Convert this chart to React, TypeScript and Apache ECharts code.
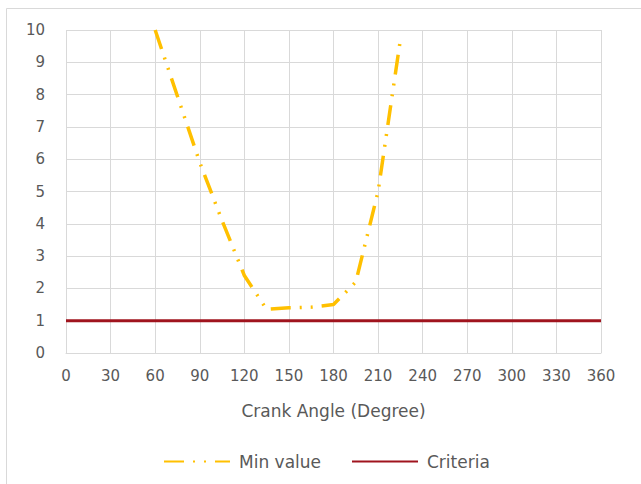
import React, { useEffect, useRef } from "react";
import * as echarts from "echarts";

// Crank angle sample points (degrees) and the minimum value at each
const crankAngles = [60, 75, 90, 105, 120, 135, 150, 165, 180, 195, 210, 225];
const minValues = [10, 7.95, 5.9, 4.1, 2.4, 1.35, 1.4, 1.42, 1.5, 2.2, 5.0, 9.7];

// Criteria threshold spans the whole angle range
const criteriaAngles = [0, 360];
const criteriaValues = [1, 1];

const xTicks = { min: 0, max: 360, interval: 30 };
const yTicks = { min: 0, max: 10, interval: 1 };

const FONT = "'DejaVu Sans', 'Open Sans', sans-serif";
const TEXT = "#595959";
const GRID = "#d9d9d9";

export default function App() {
  const ref = useRef<HTMLDivElement>(null);

  useEffect(() => {
    if (!ref.current) return;
    const chart = echarts.init(ref.current, undefined, { renderer: "svg" });
    chart.setOption({
      animation: false,
      backgroundColor: "#ffffff",
      textStyle: { fontFamily: FONT },
      graphic: [
        {
          type: "rect",
          shape: { x: 6.5, y: 8.5, width: 700, height: 600 },
          style: { fill: "none", stroke: GRID, lineWidth: 1 },
          silent: true,
        },
      ],
      grid: { left: 66, right: 40, top: 30, bottom: 131, containLabel: false },
      xAxis: {
        type: "value",
        min: xTicks.min,
        max: xTicks.max,
        interval: xTicks.interval,
        name: "Crank Angle (Degree)",
        nameLocation: "middle",
        nameGap: 49,
        nameTextStyle: { color: TEXT, fontSize: 17, fontFamily: FONT },
        axisLine: { show: true, lineStyle: { color: GRID } },
        axisTick: { show: false },
        axisLabel: { color: TEXT, fontSize: 15, margin: 15, fontFamily: FONT },
        splitLine: { show: true, lineStyle: { color: GRID } },
      },
      yAxis: {
        type: "value",
        min: yTicks.min,
        max: yTicks.max,
        interval: yTicks.interval,
        axisLine: { show: false },
        axisTick: { show: false },
        axisLabel: { color: TEXT, fontSize: 15, margin: 21, fontFamily: FONT },
        splitLine: { show: true, lineStyle: { color: GRID } },
      },
      legend: {
        bottom: 9,
        left: 158,
        itemWidth: 66,
        itemHeight: 14,
        itemGap: 30,
        itemStyle: { opacity: 0 },
        textStyle: { color: TEXT, fontSize: 17, fontFamily: FONT, padding: [0, 0, 0, 4] },
        data: ["Min value", "Criteria"],
      },
      series: [
        {
          name: "Min value",
          type: "line",
          data: crankAngles.map((a, i) => [a, minValues[i]]),
          showSymbol: false,
          symbol: "none",
          lineStyle: {
            color: "#FFC000",
            width: 3.5,
            type: [20, 9, 2, 9, 2, 9],
            cap: "butt",
          },
          itemStyle: { color: "#FFC000" },
          z: 3,
        },
        {
          name: "Criteria",
          type: "line",
          data: criteriaAngles.map((a, i) => [a, criteriaValues[i]]),
          showSymbol: false,
          symbol: "none",
          lineStyle: { color: "#A0141E", width: 3 },
          itemStyle: { color: "#A0141E" },
          z: 2,
        },
      ],
    });
    return () => chart.dispose();
  }, []);

  return <div ref={ref} style={{ width: 641, height: 484, position: "absolute", left: 0, top: 0 }} />;
}
